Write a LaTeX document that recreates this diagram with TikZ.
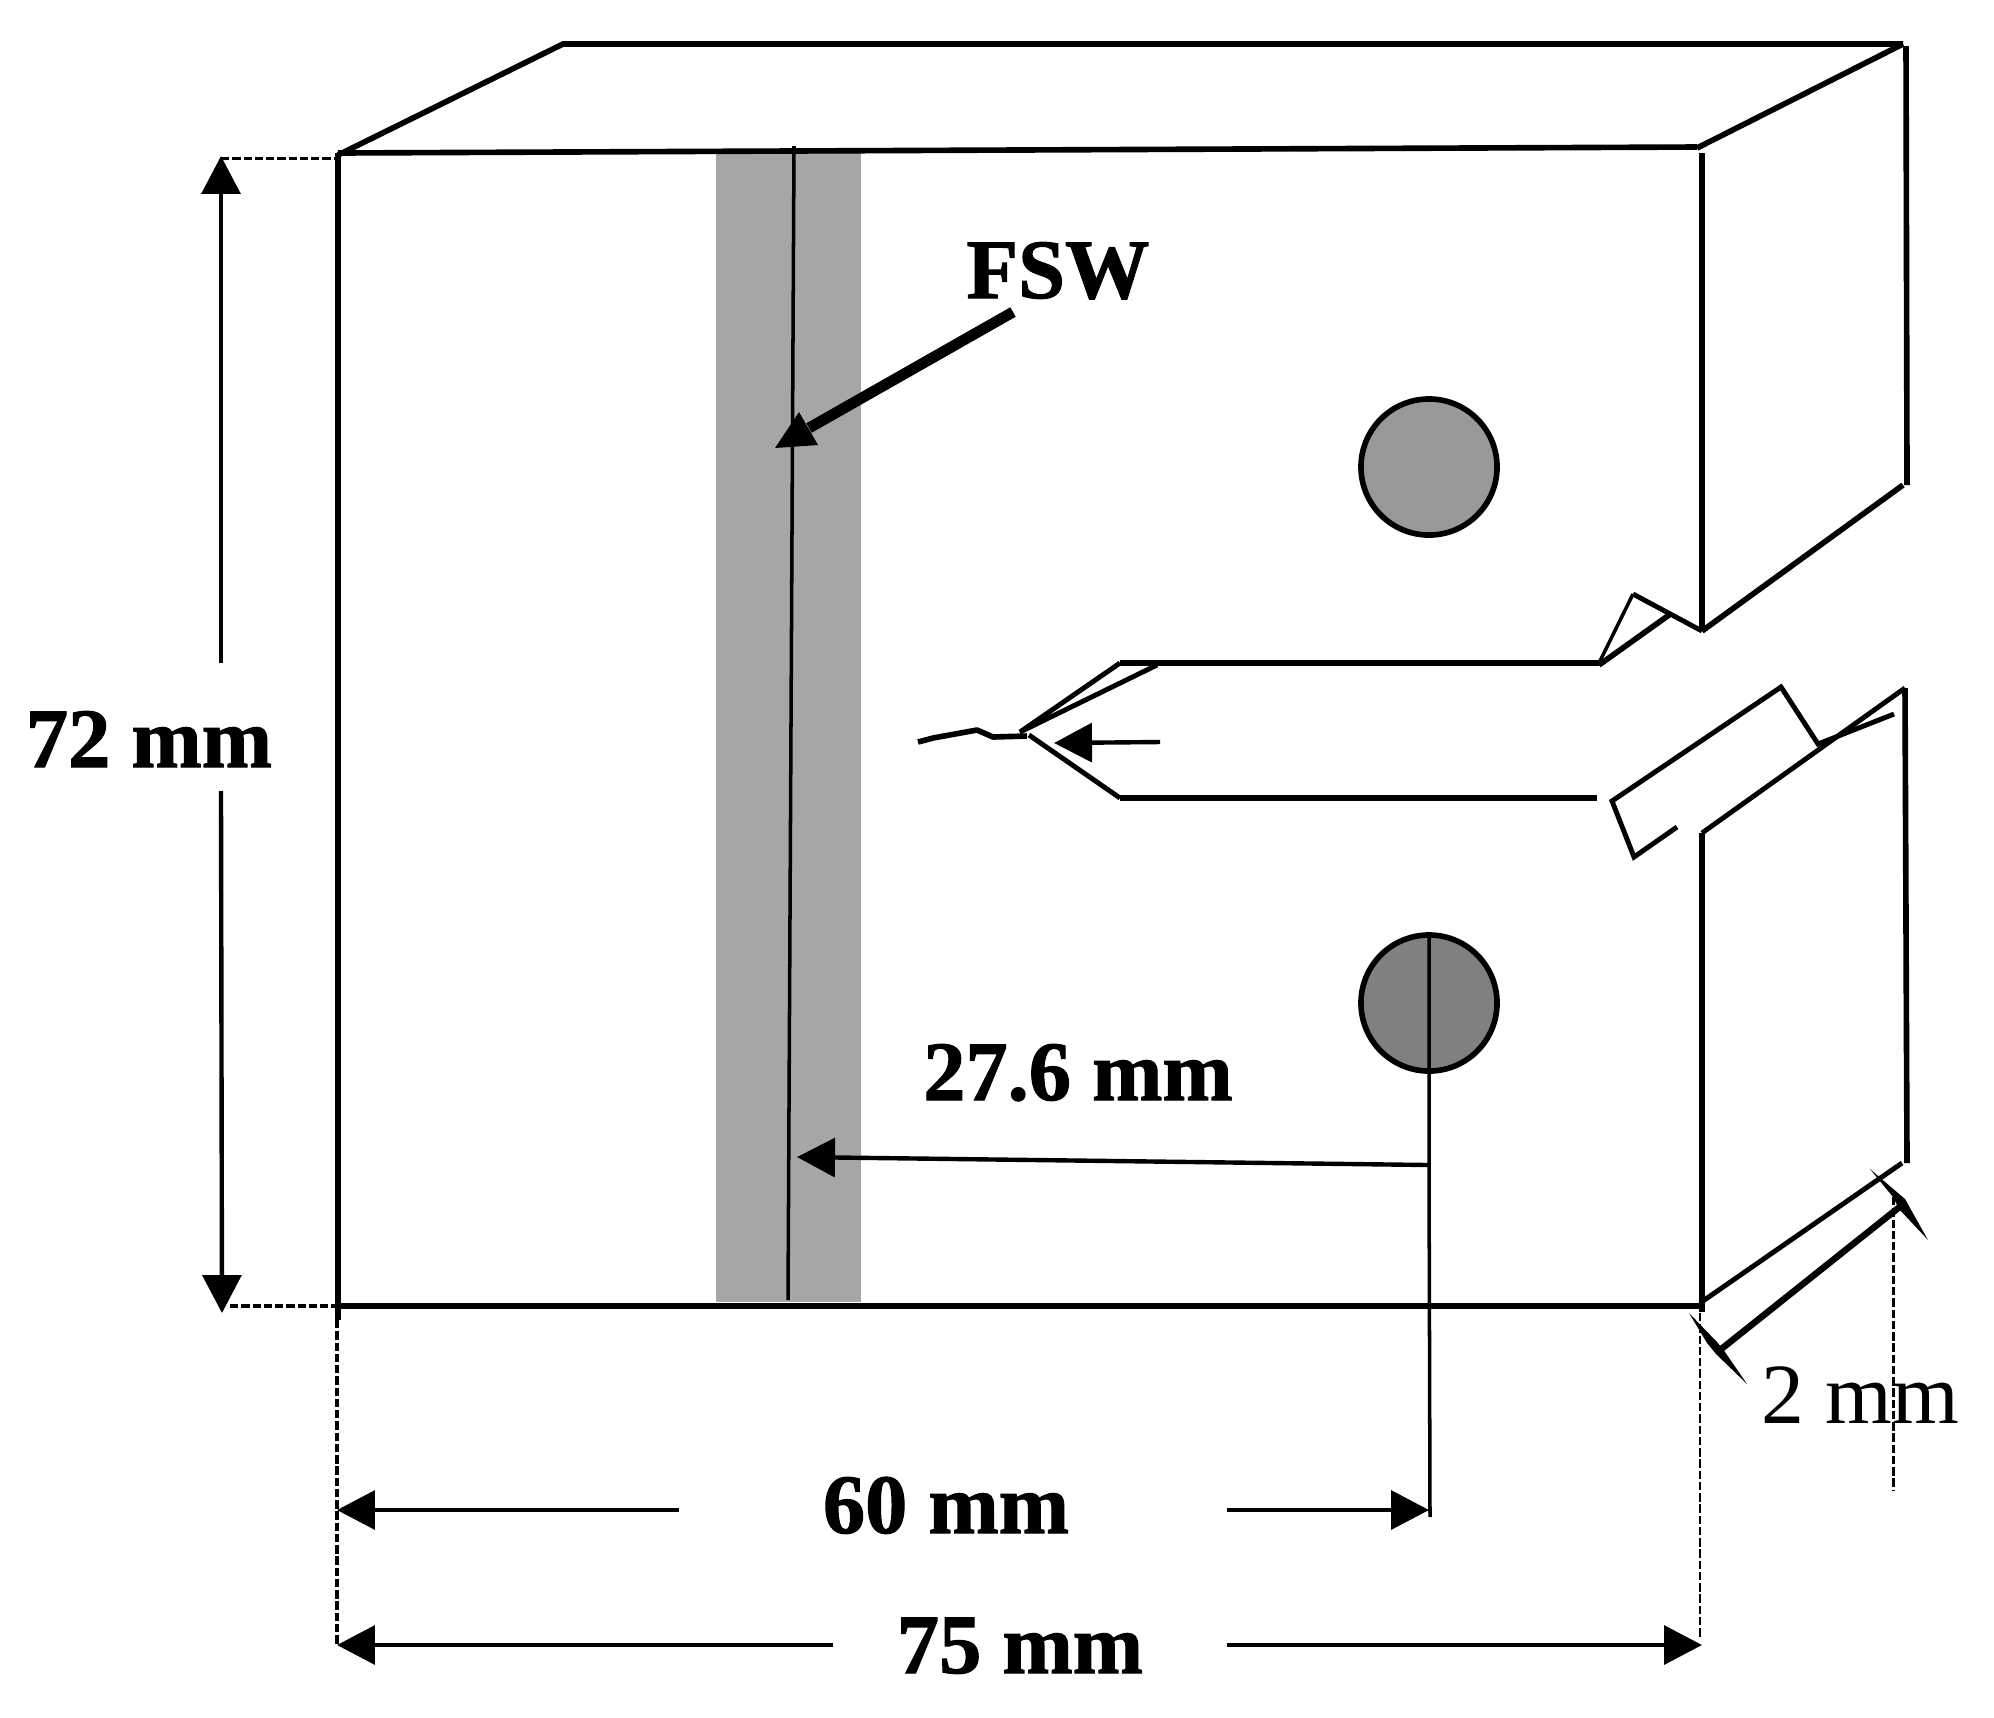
\documentclass[tikz,border=0pt]{standalone}
\usepackage{fontspec}
\setmainfont{Liberation Serif}
\newfontfamily\dimfont{Liberation Serif}[UprightFont=* Bold,FakeBold=1.3]
\usetikzlibrary{arrows.meta}
\tikzset{
  edgeline/.style={line width=1.6pt},
  flapline/.style={line width=1.4pt},
  thinline/.style={line width=1pt},
  dimline/.style={line width=1.25pt,-{Triangle[length=10.8pt,width=11pt]}},
  dimdash/.style={line width=1.1pt,dash pattern=on 2.4pt off 0.8pt},
  dimtext/.style={anchor=base,inner sep=0pt,font=\dimfont\fontsize{24}{28}\selectfont},
  hole/.style={circle,draw,line width=1.6pt,inner sep=0pt,minimum size=1.36cm}
}
\definecolor{bandgray}{HTML}{A6A6A6}
\begin{document}
\begin{tikzpicture}[x=0.01cm,y=-0.01cm]
\useasboundingbox (0,0) rectangle (1994,1717);
\coordinate (topdim) at (221,156);
\coordinate (botdim) at (222,1313);
\coordinate (leftgap) at (221,663);
\coordinate (rightgap) at (221,791);
\coordinate (weldmid) at (797,1157);
\coordinate (holedrop) at (1429,1165);
\coordinate (tipA) at (337,1510);
\coordinate (endA) at (1429,1510);
\coordinate (tipB) at (337,1645);
\coordinate (endB) at (1702,1645);

\fill[bandgray] (716,153) rectangle (861,1302);
\draw[thinline] (794,146) -- (788,1300);

\draw[edgeline] (338,155) -- (563,44) -- (1903,44);
\draw[edgeline] (1903,44) -- (1697,148);
\draw[edgeline] (338,153) -- (1697,147);
\draw[edgeline] (1906,46) -- (1907,485);
\draw[edgeline] (1903,485) -- (1702,631);
\draw[edgeline] (1702,153) -- (1702,631);
\draw[edgeline] (338,153) -- (338,1320);
\draw[edgeline] (338,1306) -- (1702,1306);

\draw[thinline] (1599,663) -- (1633,594);
\draw[flapline] (1633,594) -- (1702,631);
\draw[edgeline] (1599,665) -- (1669,615);
\draw[edgeline] (1599,663) -- (1120,663);
\draw[flapline] (1120,663) -- (1020,732) -- (1157,665);
\draw[flapline] (1029,735) -- (1120,798);
\draw[edgeline] (1120,798) -- (1597,798);
\draw[flapline] (1677,827) -- (1634,857) -- (1612,801) -- (1781,687) -- (1818,744) -- (1894,714);
\draw[flapline] (1702,833) -- (1905,688);
\draw[edgeline] (1905,688) -- (1907,1163);
\draw[edgeline] (1702,833) -- (1702,1312);
\draw[flapline] (1700,1303) -- (1902,1163);
\draw[line width=1.6pt,line join=round] (918,742) -- (933,738) -- (977,730) -- (993,737) -- (1027,736);
\draw[dimline] (1160,742) -- (1054,743);

\node[hole,fill=black!40] (upperhole) at (1429,467) {};
\node[hole,fill=black!50] (lowerhole) at (1429,1003) {};
\draw[thinline] (lowerhole.north) -- (holedrop) -- (1430,1517);

\draw[line width=3.1pt] (1013,312) -- (809,428);
\fill (775,448) -- (799,412) -- (818,445) -- cycle;
\draw[dimline] (holedrop) -- (weldmid);

\draw[dimline] (leftgap) -- (topdim);
\draw[dimline] (rightgap) -- (botdim);
\draw[dimdash,line width=0.85pt] (topdim) ++(0,2) -- (335,158);
\draw[dimdash] (230,1306) -- (338,1306);
\draw[dimdash] (337,1320) -- (tipB);
\draw[dimdash,line width=0.75pt] (1700,1313) -- (1700,1638);
\draw[dimdash,line width=0.85pt] (1893,1197) -- (1893,1490);

\draw[dimline] (679,1510) -- (tipA);
\draw[dimline] (1227,1510) -- (endA);
\draw[dimline] (833,1645) -- (tipB);
\draw[dimline] (1227,1645) -- (endB);

\draw[line width=1.85pt] (1720,1350) -- (1902,1205);
\fill (1689,1313) -- (1717,1342) -- (1725,1352) -- (1747,1384) -- (1716,1354) -- (1707,1343) -- cycle;
\fill (1870,1169) -- (1905,1199) -- (1928,1240) -- (1899,1209) -- (1893,1197) -- cycle;

\node[dimtext] (fswlabel) at (1058,298) {FSW};
\node[dimtext] (heightlabel) at (149,767) {72 mm};
\node[dimtext] (holelabel) at (1078,1100) {27.6 mm};
\node[dimtext] (pitchlabel) at (946,1533) {60 mm};
\node[dimtext] (widthlabel) at (1020,1673) {75 mm};
\node[anchor=base,inner sep=0pt,font=\fontsize{24.4}{28}\selectfont] (notchlabel) at (1860,1423) {2 mm};
\end{tikzpicture}
\end{document}
